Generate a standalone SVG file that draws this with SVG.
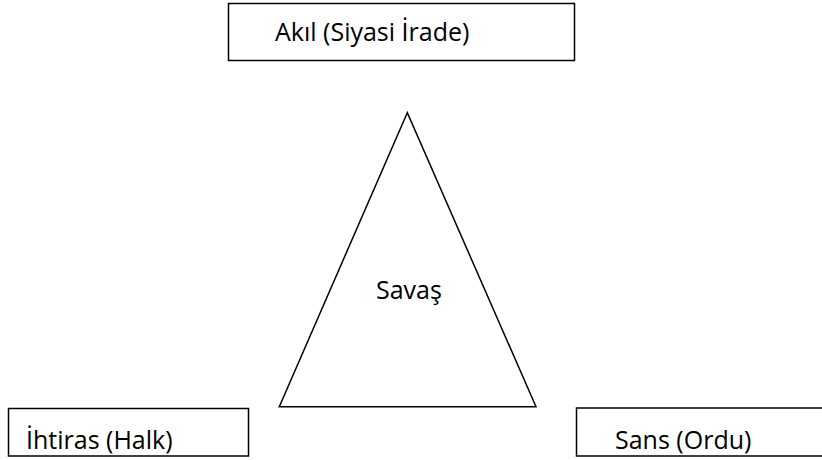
<svg xmlns="http://www.w3.org/2000/svg" width="822" height="460" viewBox="0 0 822 460">
<style>
.box{fill:#fff;stroke:#000;stroke-width:1.5}
.tri{fill:#fff;stroke:#000;stroke-width:1.5;stroke-linejoin:miter}
.lbl{font-family:"Open Sans","Noto Sans",sans-serif;font-size:25px;fill:#000}
</style>
<rect width="822" height="460" fill="#fff"/>
<g id="akil">
<rect class="box" x="228.5" y="3.5" width="346" height="57"/>
<text class="lbl" x="275" y="41">Akıl (Siyasi İrade)</text>
</g>
<g id="savas">
<polygon class="tri" points="407.3,112.7 279.3,406.7 536,406.7"/>
<text class="lbl" x="376" y="299">Savaş</text>
</g>
<g id="ihtiras">
<rect class="box" x="8.5" y="408.5" width="240" height="47.5"/>
<text class="lbl" x="26" y="449">İhtiras (Halk)</text>
</g>
<g id="sans">
<rect class="box" x="576.5" y="408" width="250" height="48"/>
<text class="lbl" x="615" y="449">Sans (Ordu)</text>
</g>
<g id="connectors"></g>
</svg>
